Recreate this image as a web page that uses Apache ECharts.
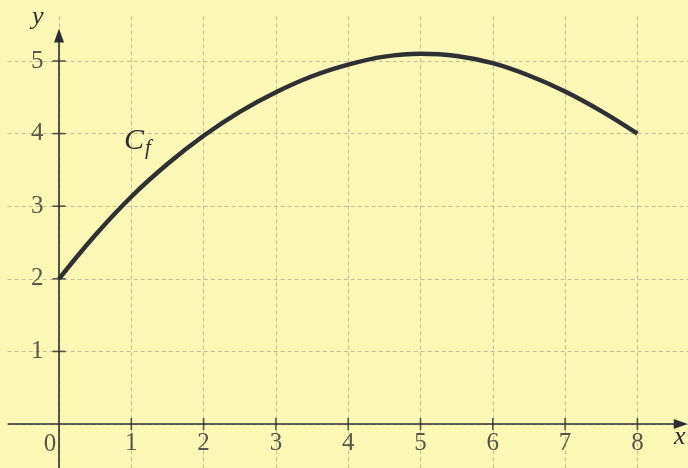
<!DOCTYPE html>
<html>
<head>
<meta charset="utf-8">
<script src="https://cdn.jsdelivr.net/npm/echarts@6/dist/echarts.min.js"></script>
<style>
  html, body { margin: 0; padding: 0; background: #fbf7b5; }
  #main { width: 688px; height: 468px; }
</style>
</head>
<body>
<div id="main"></div>
<script>
// courbe Cf
const xs = [0, 0.5, 1, 1.5, 2, 2.5, 3, 3.5, 4, 4.5, 5, 5.5, 6, 6.5, 7, 7.5, 8];
const fx = [2.0, 2.6, 3.13, 3.58, 3.97, 4.3, 4.57, 4.79, 4.95, 5.06, 5.1, 5.07, 4.97, 4.8, 4.58, 4.31, 4.0];
const xTicks = [1, 2, 3, 4, 5, 6, 7, 8];
const yTicks = [1, 2, 3, 4, 5];

window.addEventListener('load', function () {
    var myChart = echarts.init(document.getElementById('main'));
    const ink = '#2c2f31';
    const font = 'Liberation Serif';
    const gridLine = {
        show: true,
        lineStyle: { color: '#c2bd98', width: 1, type: [4, 3] }
    };
    const tickLabel = { show: true, color: ink, fontFamily: font, fontSize: 25 };
    var option = {
        animation: false,
        backgroundColor: '#fbf7b5',
        grid: { left: -13.3, right: -21.7, top: -11.6, bottom: -28.6, outerBoundsMode: 'none', containLabel: false },
        xAxis: {
            type: 'value',
            min: -1, max: 9, interval: 1,
            axisLine: { show: false },
            axisTick: { show: false },
            axisLabel: { show: false },
            splitLine: gridLine
        },
        yAxis: {
            type: 'value',
            min: -1, max: 6, interval: 1,
            axisLine: { show: false },
            axisTick: { show: false },
            axisLabel: { show: false },
            splitLine: gridLine
        },
        graphic: [
            { type: 'rect', left: 0, top: 0, z: 50, shape: { width: 688, height: 14 }, style: { fill: '#fbf7b5' } },
            { type: 'rect', left: 0, top: 0, z: 50, shape: { width: 7, height: 468 }, style: { fill: '#fbf7b5' } },
            {
                type: 'text', left: 32, top: 4, z: 60,
                style: { text: 'y', font: 'italic 26px "Liberation Serif"', fill: ink }
            },
            {
                type: 'text', left: 674, top: 424, z: 60,
                style: { text: 'x', font: 'italic 26px "Liberation Serif"', fill: ink }
            },
            {
                type: 'text', left: 124, top: 126, z: 60,
                style: {
                    text: '{c|C}{f|f}',
                    rich: {
                        c: { font: 'italic 30px "Liberation Serif"', fill: ink },
                        f: { font: 'italic 21px "Liberation Serif"', fill: ink, padding: [14, 0, 0, 1] }
                    }
                }
            }
        ],
        series: [
            {
                // axes avec flèches
                type: 'line',
                data: [],
                markLine: {
                    silent: true,
                    symbol: ['none', 'triangle'],
                    symbolSize: [10, 14],
                    label: { show: false },
                    lineStyle: { color: ink, width: 1.6, type: 'solid' },
                    data: [
                        [{ coord: [-0.71, 0] }, { coord: [8.6, 0] }],
                        [{ coord: [0, -0.7] }, { coord: [0, 5.35] }]
                    ]
                }
            },
            {
                type: 'scatter',
                symbol: 'rect',
                symbolSize: [1.6, 12],
                itemStyle: { color: ink },
                label: Object.assign({ position: 'bottom', distance: 1, formatter: p => String(p.value[0]) }, tickLabel),
                data: xTicks.map(v => [v, 0])
            },
            {
                type: 'scatter',
                symbol: 'rect',
                symbolSize: [13, 1.6],
                itemStyle: { color: ink },
                label: Object.assign({ position: 'left', distance: 9, formatter: p => String(p.value[1]) }, tickLabel),
                data: yTicks.map(v => [0, v])
            },
            {
                // origine
                type: 'scatter',
                symbol: 'circle',
                symbolSize: 1,
                itemStyle: { color: 'rgba(0,0,0,0)' },
                label: Object.assign({ position: 'bottom', distance: 7, offset: [-9, 0], formatter: '0' }, tickLabel),
                data: [[0, 0]]
            },
            {
                name: 'Cf',
                type: 'line',
                smooth: 0.4,
                showSymbol: false,
                z: 5,
                lineStyle: { color: '#2e3134', width: 4.5 },
                data: xs.map((x, i) => [x, fx[i]])
            }
        ]
    };
    myChart.setOption(option);
});
</script>
</body>
</html>
